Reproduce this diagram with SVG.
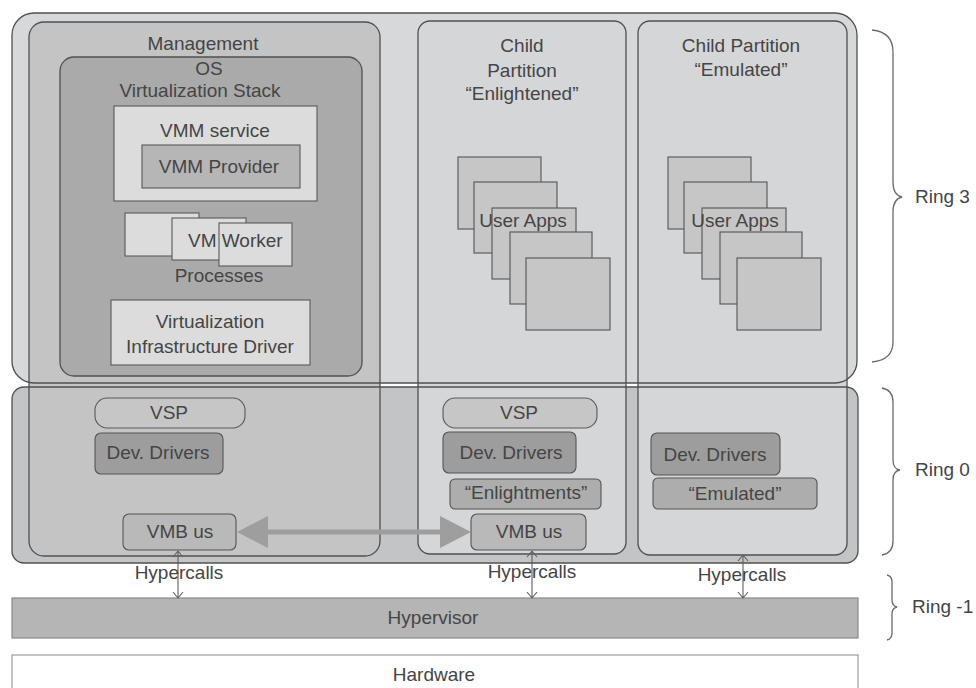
<svg xmlns="http://www.w3.org/2000/svg" width="976" height="688" viewBox="0 0 976 688">
  <defs>
    <style>
      text { font-family: "Liberation Sans", Arial, sans-serif; font-size: 19px; fill: #454545; text-anchor: middle; }
      .edge { stroke: #505050; stroke-width: 1.3; }
      .thin { stroke: #5a5a5a; stroke-width: 1.1; }
      .light { fill: #dcdcdc; }
      .mid { fill: #b6b6b6; }
      .app { fill: #c6c6c6; stroke: #555; stroke-width: 1.1; }
      .vsp { fill: #c6c6c6; stroke: #5a5a5a; stroke-width: 1.1; }
      .drv { fill: #9d9d9d; stroke: #555; stroke-width: 1.1; }
      .emu { fill: #adadad; stroke: #555; stroke-width: 1.1; }
      .vmb { fill: #b9b9b9; stroke: #555; stroke-width: 1.1; }
      .brace { fill: none; stroke: #6a6a6a; stroke-width: 1.3; }
      .hc { fill: none; stroke: #5f5f5f; stroke-width: 1.1; }
      .ring { text-anchor: start; }
    </style>
  </defs>

  <rect width="976" height="688" fill="#ffffff"/>

  <!-- ring fills -->
  <g id="ring3-area">
    <rect x="12" y="13" width="845" height="370" rx="22" fill="#d6d8da"/>
  </g>
  <g id="ring0-area">
    <rect x="12" y="387" width="846" height="176" rx="12" fill="#c3c4c5"/>
  </g>

  <!-- partitions -->
  <g id="management">
    <rect x="29" y="22" width="351" height="534" rx="15" fill="#c4c4c4" class="edge"/>
    <text x="203" y="50">Management</text>
  </g>
  <g id="child-enlightened">
    <rect x="418" y="21" width="208" height="533" rx="12" fill="#d5d6d8" class="edge"/>
    <text x="522" y="52">Child</text>
    <text x="522" y="77">Partition</text>
    <text x="522" y="100">“Enlightened”</text>
  </g>
  <g id="child-emulated">
    <rect x="638" y="21" width="209" height="534" rx="12" fill="#d5d6d8" class="edge"/>
    <text x="741" y="52">Child Partition</text>
    <text x="741" y="76">“Emulated”</text>
  </g>

  <!-- ring outlines over the partitions -->
  <g id="ring-outlines" fill="none">
    <rect x="12" y="13" width="845" height="370" rx="22" class="edge"/>
    <rect x="12" y="387" width="846" height="176" rx="12" class="edge" stroke-width="1.6"/>
  </g>

  <!-- management OS stack -->
  <g id="os-stack">
    <rect x="60" y="57" width="302" height="319" rx="14" fill="#aaaaaa" class="edge"/>
    <text x="209" y="75">OS</text>
    <text x="200" y="97">Virtualization Stack</text>
  </g>
  <g id="vmm-service">
    <rect x="114" y="106" width="203" height="95" class="light thin"/>
    <text x="215" y="137">VMM service</text>
  </g>
  <g id="vmm-provider">
    <rect x="142" y="145" width="158" height="43" class="mid thin"/>
    <text x="219" y="173">VMM Provider</text>
  </g>
  <g id="vm-worker">
    <rect x="125" y="213" width="74" height="43" class="light thin"/>
    <rect x="172" y="218" width="74" height="42" class="light thin"/>
    <rect x="219" y="223" width="73" height="43" class="light thin"/>
    <text x="188" y="247" style="text-anchor:start">VM Worker</text>
    <text x="219" y="282">Processes</text>
  </g>
  <g id="vid">
    <rect x="111" y="300" width="199" height="65" class="light thin"/>
    <text x="210" y="328">Virtualization</text>
    <text x="210" y="353">Infrastructure Driver</text>
  </g>

  <!-- user application stacks -->
  <g id="user-apps-enlightened">
    <rect x="458" y="157" width="83" height="72" class="app"/>
    <rect x="474" y="182" width="83" height="71" class="app"/>
    <rect x="492" y="208" width="84" height="71" class="app"/>
    <text x="523" y="227">User Apps</text>
    <rect x="510" y="232" width="82" height="72" class="app"/>
    <rect x="526" y="258" width="84" height="72" class="app"/>
  </g>
  <g id="user-apps-emulated">
    <rect x="668" y="157" width="83" height="72" class="app"/>
    <rect x="684" y="182" width="83" height="71" class="app"/>
    <rect x="702" y="208" width="84" height="71" class="app"/>
    <text x="735" y="227">User Apps</text>
    <rect x="720" y="232" width="82" height="72" class="app"/>
    <rect x="737" y="258" width="84" height="72" class="app"/>
  </g>

  <!-- kernel-mode components -->
  <g id="mgmt-vsp">
    <rect x="95" y="398" width="150" height="30" rx="12" class="vsp"/>
    <text x="169" y="419">VSP</text>
  </g>
  <g id="mgmt-dev-drivers">
    <rect x="95" y="433" width="128" height="41" rx="6" class="drv"/>
    <text x="158" y="459">Dev. Drivers</text>
  </g>
  <g id="mgmt-vmbus">
    <rect x="123" y="514" width="113" height="36" rx="6" class="vmb"/>
    <text x="180" y="538">VMB us</text>
  </g>
  <g id="enl-vsp">
    <rect x="443" y="398" width="154" height="30" rx="12" class="vsp"/>
    <text x="519" y="419">VSP</text>
  </g>
  <g id="enl-dev-drivers">
    <rect x="443" y="432" width="133" height="41" rx="6" class="drv"/>
    <text x="511" y="459">Dev. Drivers</text>
  </g>
  <g id="enl-enlightments">
    <rect x="450" y="479" width="151" height="30" rx="5" class="emu"/>
    <text x="526" y="499">“Enlightments”</text>
  </g>
  <g id="enl-vmbus">
    <rect x="471" y="514" width="115" height="36" rx="6" class="vmb"/>
    <text x="529" y="538">VMB us</text>
  </g>
  <g id="emu-dev-drivers">
    <rect x="651" y="433" width="129" height="42" rx="6" class="drv"/>
    <text x="715" y="461">Dev. Drivers</text>
  </g>
  <g id="emu-emulated">
    <rect x="653" y="478" width="164" height="31" rx="5" class="emu"/>
    <text x="735" y="500">“Emulated”</text>
  </g>

  <!-- hypervisor and hardware -->
  <g id="hypervisor">
    <rect x="12" y="598" width="846" height="40" fill="#b5b5b5" stroke="#8a8a8a" stroke-width="1.2"/>
    <text x="433" y="624">Hypervisor</text>
  </g>
  <g id="hardware">
    <rect x="12" y="655" width="846" height="40" fill="#ffffff" stroke="#9a9a9a" stroke-width="1.2"/>
    <text x="434" y="681">Hardware</text>
  </g>

  <!-- connectors -->
  <g id="connectors">
    <g id="vmbus-link" fill="#9e9e9e">
      <rect x="266" y="529.5" width="176" height="5"/>
      <polygon points="237,532 268,516 268,548"/>
      <polygon points="471,532 440,516 440,548"/>
    </g>
    <g id="hypercalls" class="hc">
      <path d="M178,552 V597 M173,557 L178,551 L183,557 M173,592 L178,598 L183,592"/>
      <path d="M532,552 V597 M527,557 L532,551 L537,557 M527,592 L532,598 L537,592"/>
      <path d="M743,556 V597 M738,561 L743,555 L748,561 M738,592 L743,598 L748,592"/>
    </g>
  </g>
  <g id="hypercall-labels">
    <text x="179" y="579">Hypercalls</text>
    <text x="532" y="578">Hypercalls</text>
    <text x="742" y="581">Hypercalls</text>
  </g>

  <!-- privilege ring braces -->
  <g id="ring3-label">
    <path class="brace" d="M872,30 Q893,32 893,52 L893,182 Q893,195 902,197 Q893,199 893,212 L893,342 Q893,360 872,362"/>
    <text class="ring" x="915" y="203">Ring 3</text>
  </g>
  <g id="ring0-label">
    <path class="brace" d="M882,388 Q893,390 893,402 L893,460 Q893,469 900,470 Q893,471 893,480 L893,541 Q893,553 882,555"/>
    <text class="ring" x="915" y="476">Ring 0</text>
  </g>
  <g id="ring-1-label">
    <path class="brace" d="M887,575 Q892,576 892,582 L892,600 Q892,606 897,607 Q892,608 892,614 L892,633 Q892,639 887,640"/>
    <text class="ring" x="912" y="613">Ring -1</text>
  </g>
</svg>
